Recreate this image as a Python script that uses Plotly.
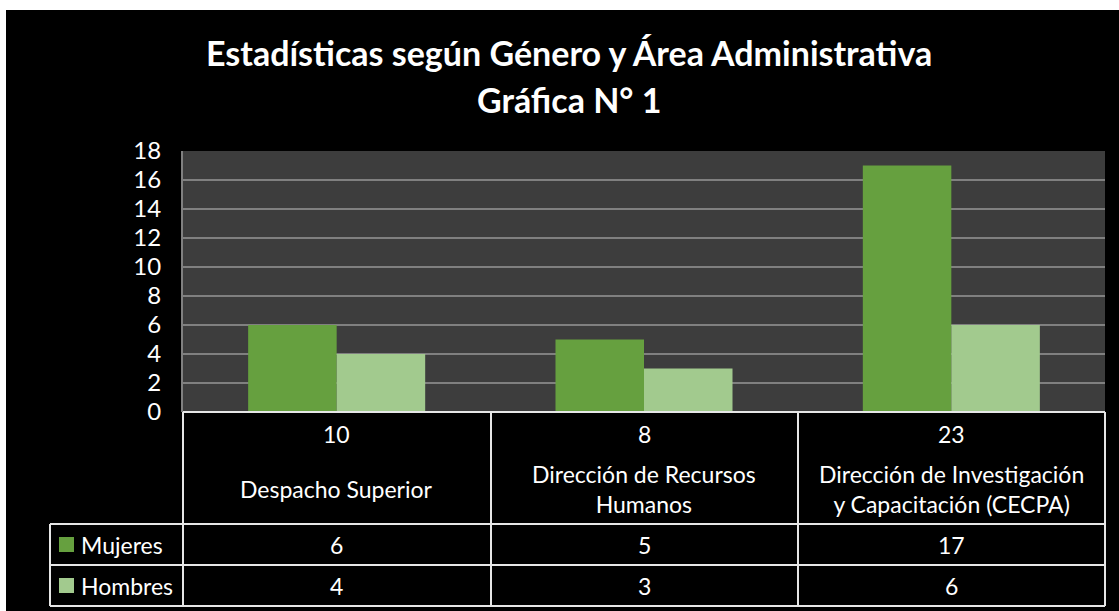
import plotly.graph_objects as go

# ---- data ----
categories = ["Despacho Superior", "Dirección de Recursos<br>Humanos",
              "Dirección de Investigación<br>y Capacitación (CECPA)"]
totals = [10, 8, 23]
series_names = ["Mujeres", "Hombres"]
mujeres = [6, 5, 17]
hombres = [4, 3, 6]
y_ticks = list(range(0, 19, 2))

title_line1 = "Estadísticas según Género y Área Administrativa"
title_line2 = "Gráfica N° 1"

# ---- styling / layout constants ----
W, H = 1119, 611
L, R, T, B = 183, 1105, 151, 412
FONT = "Lato"
C_MUJ = "#66a03f"
C_HOM = "#a2ca8e"
LINE = "#e6e6e6"


def xp(px):
    return (px - L) / (R - L)


def yp(py):
    return (B - py) / (B - T)


fig = go.Figure()
fig.add_trace(go.Bar(name=series_names[0], x=categories, y=mujeres,
                     marker=dict(color=C_MUJ, line=dict(width=0))))
fig.add_trace(go.Bar(name=series_names[1], x=categories, y=hombres,
                     marker=dict(color=C_HOM, line=dict(width=0))))

shapes = []
# white strips around the black chart area
shapes.append(dict(type="rect", xref="paper", yref="paper", x0=xp(0), x1=xp(W),
                   y0=yp(10), y1=yp(0), fillcolor="white", line=dict(width=0), layer="above"))
shapes.append(dict(type="rect", xref="paper", yref="paper", x0=xp(0), x1=xp(6),
                   y0=yp(H), y1=yp(0), fillcolor="white", line=dict(width=0), layer="above"))


def hline(x0, x1, y):
    shapes.append(dict(type="line", xref="paper", yref="paper", x0=xp(x0), x1=xp(x1),
                       y0=yp(y), y1=yp(y), line=dict(color=LINE, width=2), layer="above"))


def vline(x, y0, y1):
    shapes.append(dict(type="line", xref="paper", yref="paper", x0=xp(x), x1=xp(x),
                       y0=yp(y0), y1=yp(y1), line=dict(color=LINE, width=2), layer="above"))


col_edges = [183, 491, 798, 1105]
hline(183, 1105, 412)
hline(50, 1105, 524)
hline(50, 1105, 565)
hline(50, 1105, 606)
vline(50, 524, 606)
for cx in col_edges:
    vline(cx, 412, 606)

# legend keys in the table
for ycen, col in [(544.5, C_MUJ), (585.5, C_HOM)]:
    shapes.append(dict(type="rect", xref="paper", yref="paper", x0=xp(59), x1=xp(74),
                       y0=yp(ycen + 7.5), y1=yp(ycen - 7.5), fillcolor=col,
                       line=dict(width=0), layer="above"))

annotations = []
fs = 23
annotations.append(dict(text="<b>" + title_line1 + "</b>", xref="paper", yref="paper",
                        x=xp(569), y=yp(53), showarrow=False,
                        font=dict(family=FONT, size=34, color="white"),
                        xanchor="center", yanchor="middle"))
annotations.append(dict(text="<b>" + title_line2 + "</b>", xref="paper", yref="paper",
                        x=xp(569), y=yp(100), showarrow=False,
                        font=dict(family=FONT, size=34, color="white"),
                        xanchor="center", yanchor="middle"))

for cat, tot, m, h in zip(categories, totals, mujeres, hombres):
    annotations.append(dict(text=str(tot), xref="x", yref="paper", x=cat, y=yp(434),
                            showarrow=False, font=dict(family=FONT, size=fs, color="white"),
                            yanchor="middle"))
    annotations.append(dict(text=cat, xref="x", yref="paper", x=cat, y=yp(489),
                            showarrow=False, font=dict(family=FONT, size=fs, color="white"),
                            yanchor="middle", align="center"))
    annotations.append(dict(text=str(m), xref="x", yref="paper", x=cat, y=yp(545),
                            showarrow=False, font=dict(family=FONT, size=fs, color="white"),
                            yanchor="middle"))
    annotations.append(dict(text=str(h), xref="x", yref="paper", x=cat, y=yp(586),
                            showarrow=False, font=dict(family=FONT, size=fs, color="white"),
                            yanchor="middle"))

for name, ycen in zip(series_names, [545, 586]):
    annotations.append(dict(text=name, xref="paper", yref="paper", x=xp(79), y=yp(ycen),
                            showarrow=False, font=dict(family=FONT, size=fs, color="white"),
                            xanchor="left", yanchor="middle"))

fig.update_layout(
    width=W, height=H,
    margin=dict(l=L, r=W - R, t=T, b=H - B, pad=0),
    paper_bgcolor="black",
    plot_bgcolor="#3d3d3d",
    barmode="group",
    bargap=0.424,
    bargroupgap=0,
    showlegend=False,
    shapes=shapes,
    annotations=annotations,
    xaxis=dict(showticklabels=False, showgrid=False, zeroline=False,
               showline=False, ticks=""),
    yaxis=dict(range=[0, 18], tickvals=y_ticks, showgrid=True, gridcolor="#808080",
               gridwidth=2, zeroline=False, showline=True, linecolor="#808080",
               linewidth=2, ticks="outside", ticklen=0, ticklabelstandoff=15,
               tickfont=dict(family=FONT, size=24, color="white")),
)

fig.write_html("out.html", config={"displayModeBar": False},
               post_script="document.body.style.margin='0';document.body.style.overflow='hidden';")
